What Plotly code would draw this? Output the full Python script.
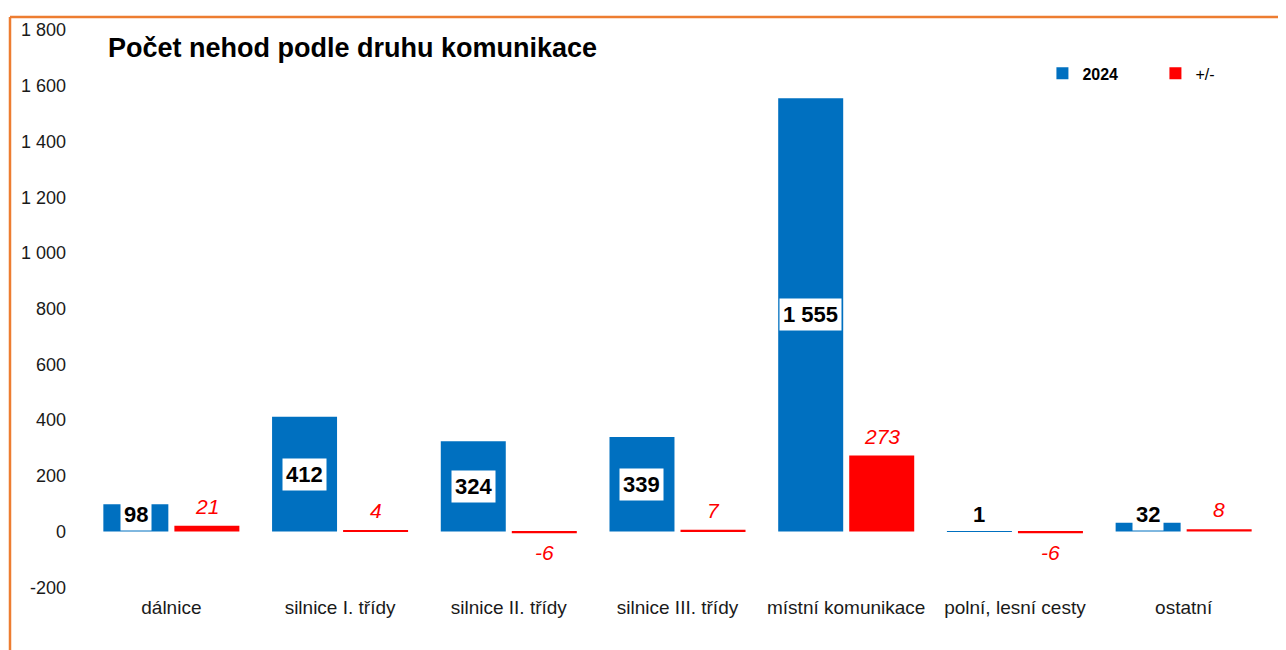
import plotly.graph_objects as go

categories = ["dálnice", "silnice I. třídy", "silnice II. třídy", "silnice III. třídy",
              "místní komunikace", "polní, lesní cesty", "ostatní"]
values_2024 = [98, 412, 324, 339, 1555, 1, 32]
values_diff = [21, 4, -6, 7, 273, -6, 8]
tick_vals = [-200, 0, 200, 400, 600, 800, 1000, 1200, 1400, 1600, 1800]
tick_text = ["-200", "0", "200", "400", "600", "800", "1 000", "1 200", "1 400", "1 600", "1 800"]

BLUE = "#0070C0"
RED = "#FF0000"
FONT = "Liberation Sans, Arial, sans-serif"

fig = go.Figure()
fig.add_trace(go.Bar(x=categories, y=values_2024, name="<b>2024</b>",
                     marker=dict(color=BLUE, line=dict(width=0)), hoverinfo="x+y"))
fig.add_trace(go.Bar(x=categories, y=values_diff, name="+/-",
                     marker=dict(color=RED, line=dict(width=0)), hoverinfo="x+y"))

annotations = []
off = 0.2105
for i, v in enumerate(values_2024):
    annotations.append(dict(
        x=i - off, y=max(v / 2, 60), xref="x", yref="y",
        text="<b>" + f"{v:,}".replace(",", " ") + "</b>",
        showarrow=False, font=dict(family=FONT, size=22, color="black"),
        bgcolor="white", borderpad=3, xanchor="center", yanchor="middle"))
for i, v in enumerate(values_diff):
    annotations.append(dict(
        x=i + off, y=v, xref="x", yref="y",
        text=str(v), showarrow=False,
        font=dict(family=FONT, size=21, color=RED, style="italic"),
        xanchor="center", yanchor="bottom" if v >= 0 else "top",
        yshift=6 if v >= 0 else -6))

fig.update_layout(
    width=1286, height=650,
    margin=dict(l=79, r=26, t=12, b=64),
    paper_bgcolor="white", plot_bgcolor="white",
    barmode="group", bargap=0.158, bargroupgap=0.085,
    font=dict(family=FONT, color="#1a1a1a"),
    title=dict(text="<b>Počet nehod podle druhu komunikace</b>",
               font=dict(family=FONT, size=27, color="black"),
               x=100 / 1286, xref="container", xanchor="left",
               y=1 - 40 / 650, yref="container", yanchor="middle"),
    legend=dict(orientation="h", x=0.809, xanchor="left", y=0.915, yanchor="middle",
                font=dict(family=FONT, size=16, color="black"),
                entrywidth=68, bgcolor="rgba(0,0,0,0)", itemclick=False),
    xaxis=dict(showgrid=False, showline=False, zeroline=False, ticks="",
               tickfont=dict(family=FONT, size=19, color="#1a1a1a")),
    yaxis=dict(range=[-224, 1818], tickvals=tick_vals, ticktext=tick_text,
               showgrid=False, showline=False, zeroline=False, ticks="",
               ticklabelstandoff=20,
               tickfont=dict(family=FONT, size=18, color="#1a1a1a")),
    annotations=annotations,
    shapes=[
        dict(type="line", xref="paper", yref="paper", x0=-0.0652, x1=1.05,
             y0=1.01394, y1=1.01394, line=dict(color="#ED7D31", width=2.5)),
        dict(type="line", xref="paper", yref="paper", x0=-0.0652, x1=-0.0652,
             y0=-0.2, y1=1.01394, line=dict(color="#ED7D31", width=2.5)),
    ],
)

fig.write_html("out.html")
